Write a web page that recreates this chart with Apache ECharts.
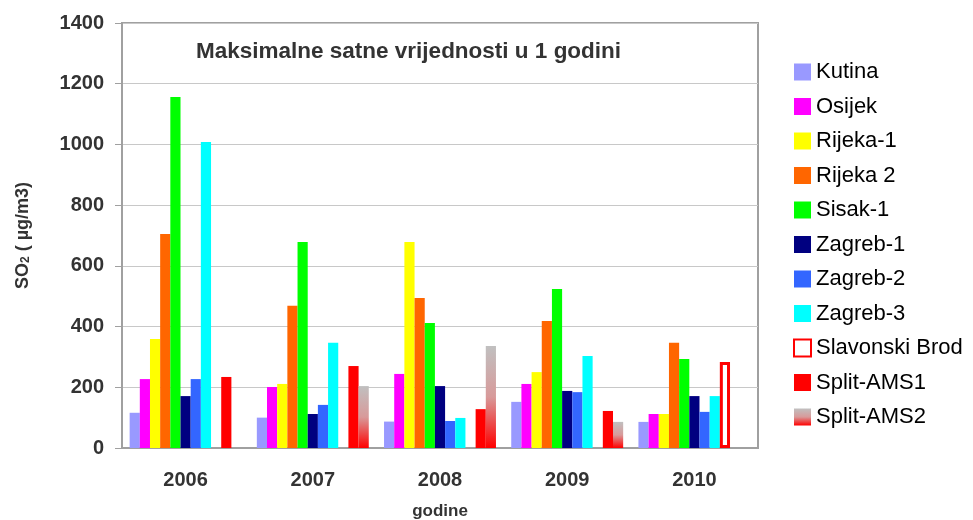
<!DOCTYPE html>
<html>
<head>
<meta charset="utf-8">
<script src="https://cdn.jsdelivr.net/npm/echarts@6/dist/echarts.min.js"></script>
<style>
  html, body { margin: 0; padding: 0; background: #fff; }
  #chart { width: 973px; height: 520px; }
</style>
</head>
<body>
<div id="chart"></div>
<script>
  // godine
  var years = ['2006', '2007', '2008', '2009', '2010'];
  var yTicks = [0, 200, 400, 600, 800, 1000, 1200, 1400];

  // maksimalne satne vrijednosti SO2 po postaji (null = nema podatka)
  var kutina        = [116, 100, 87, 152, 86];
  var osijek        = [227, 201, 244, 211, 112];
  var rijeka1       = [359, 211, 679, 250, 112];
  var rijeka2       = [705, 469, 494, 418, 347];
  var sisak1        = [1156, 679, 412, 524, 293];
  var zagreb1       = [171, 112, 204, 188, 171];
  var zagreb2       = [227, 142, 89, 184, 119];
  var zagreb3       = [1008, 347, 99, 303, 171];
  var slavonskiBrod = [null, null, null, null, 283];
  var splitAms1     = [234, 270, 128, 122, null];
  var splitAms2     = [null, 204, 336, 86, null];

  var chart = echarts.init(document.getElementById('chart'));

  function bar(name, data, style) {
    return { name: name, type: 'bar', data: data, itemStyle: style };
  }

  var option = {
    animation: false,
    textStyle: { fontFamily: 'Liberation Sans, Arial, sans-serif' },
    title: {
      text: 'Maksimalne satne vrijednosti u 1 godini',
      left: 196, top: 40, padding: 0,
      textStyle: { fontSize: 22.5, fontWeight: 'bold', color: '#333' }
    },
    legend: {
      orient: 'vertical',
      left: 788, top: 56,
      itemWidth: 17, itemHeight: 17, itemGap: 12.5,
      icon: 'rect',
      textStyle: { fontSize: 22, lineHeight: 22, color: '#000' }
    },
    grid: {
      left: 122, right: 215, top: 23, bottom: 72,
      outerBoundsMode: 'none',
      show: true, borderColor: '#a0a0a0', borderWidth: 2
    },
    xAxis: {
      type: 'category',
      data: years,
      name: 'godine',
      nameLocation: 'middle',
      nameGap: 55,
      nameTextStyle: { fontSize: 17, fontWeight: 'bold', color: '#333' },
      axisLine: { lineStyle: { color: '#a0a0a0', width: 2 } },
      axisTick: { length: 6, lineStyle: { color: '#a0a0a0' } },
      axisLabel: { margin: 22, fontSize: 20, fontWeight: 'bold', color: '#333' }
    },
    yAxis: {
      type: 'value',
      min: yTicks[0], max: yTicks[yTicks.length - 1], interval: 200,
      name: 'SO{sub|2} ( µg/m3)',
      nameLocation: 'middle',
      nameGap: 90,
      nameTextStyle: {
        fontSize: 18, fontWeight: 'bold', color: '#333',
        rich: { sub: { fontSize: 12, fontWeight: 'bold', color: '#333', verticalAlign: 'bottom', padding: [6, 0, 0, 0] } }
      },
      axisLine: { show: true, lineStyle: { color: '#a0a0a0', width: 2 } },
      axisTick: { show: true, length: 7, lineStyle: { color: '#a0a0a0' } },
      axisLabel: {
        margin: 18, fontSize: 20, fontWeight: 'bold', color: '#333',
        formatter: function (v) { return String(v); }
      },
      splitLine: { lineStyle: { color: '#c8c8c8', width: 1 } }
    },
    series: [
      bar('Kutina', kutina, { color: '#9999ff' }),
      bar('Osijek', osijek, { color: '#ff00ff' }),
      bar('Rijeka-1', rijeka1, { color: '#ffff00' }),
      bar('Rijeka 2', rijeka2, { color: '#ff6600' }),
      bar('Sisak-1', sisak1, { color: '#00ff00' }),
      bar('Zagreb-1', zagreb1, { color: '#000080' }),
      bar('Zagreb-2', zagreb2, { color: '#3366ff' }),
      bar('Zagreb-3', zagreb3, { color: '#00ffff' }),
      bar('Slavonski Brod', slavonskiBrod, { color: '#ffffff', borderColor: '#ff0000', borderWidth: 3 }),
      bar('Split-AMS1', splitAms1, { color: '#ff0000' }),
      bar('Split-AMS2', splitAms2, {
        color: new echarts.graphic.LinearGradient(0, 0, 0, 1, [
          { offset: 0, color: '#c0c0c0' },
          { offset: 0.5, color: '#d89a9a' },
          { offset: 1, color: '#ff0000' }
        ])
      })
    ]
  };
  option.series.forEach(function (s) { s.barGap = '0%'; s.barCategoryGap = '12%'; });

  chart.setOption(option);
</script>
</body>
</html>
